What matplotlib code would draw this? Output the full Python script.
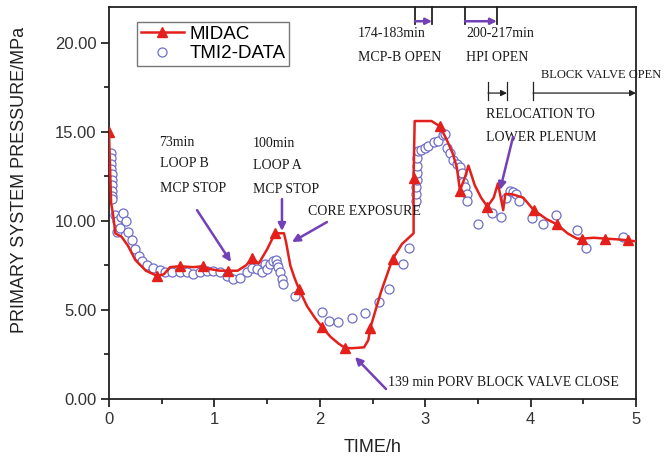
import numpy as np
import matplotlib
matplotlib.use("Agg")
import matplotlib.pyplot as plt

# MIDAC calculation (line)
midac_t = [0.00, 0.01, 0.02, 0.04, 0.06, 0.12, 0.18, 0.25, 0.35, 0.46,
           0.52, 0.58, 0.67, 0.80, 0.89, 0.95, 1.05, 1.13, 1.22, 1.30,
           1.36, 1.42, 1.50, 1.575, 1.66, 1.68, 1.72, 1.76, 1.80, 1.88,
           1.96, 2.02, 2.10, 2.18, 2.24, 2.30, 2.42, 2.46, 2.48, 2.58,
           2.69, 2.78, 2.89, 2.89, 2.90, 3.06, 3.14, 3.20, 3.26, 3.30,
           3.33, 3.38, 3.41, 3.47, 3.53, 3.59, 3.65, 3.69, 3.72, 3.74,
           3.76, 3.82, 3.93, 4.03, 4.15, 4.25, 4.35, 4.44, 4.49, 4.60,
           4.71, 4.85, 4.92, 5.00]
midac_p = [15.0, 13.0, 11.0, 10.3, 9.3, 9.1, 8.6, 7.8, 7.2, 6.9,
           7.0, 7.4, 7.45, 7.4, 7.45, 7.3, 7.2, 7.2, 7.2, 7.5,
           7.9, 7.6, 8.4, 9.3, 9.3, 8.8, 7.5, 6.8, 6.2, 5.2,
           4.5, 4.05, 3.5, 3.1, 2.87, 2.85, 2.9, 3.3, 4.0, 6.0,
           7.85, 8.7, 9.3, 12.4, 15.6, 15.6, 15.3, 14.6, 13.8, 13.0,
           11.7, 12.5, 13.1, 12.0, 11.3, 10.8, 11.3, 12.1, 11.2, 10.6,
           11.5, 11.5, 11.3, 10.6, 10.1, 9.8, 9.3, 9.0, 9.0, 9.05,
           9.0, 8.95, 8.9, 8.85]
midac_marks = [0, 9, 12, 14, 17, 20, 23, 28, 31, 34, 38, 40, 43, 46, 50,
               55, 63, 65, 68, 70, 72]

# TMI-2 plant data (open circles)
tmi_t = [0.020, 0.021, 0.022, 0.023, 0.024, 0.025, 0.026, 0.027, 0.028, 0.030,
         0.06, 0.075, 0.08, 0.10, 0.11, 0.13, 0.16, 0.18, 0.22, 0.25,
         0.28, 0.31, 0.36, 0.42, 0.48, 0.53, 0.60, 0.67, 0.74, 0.80,
         0.86, 0.93, 0.99, 1.05, 1.12, 1.18, 1.24, 1.31, 1.36, 1.40,
         1.45, 1.48, 1.50, 1.53, 1.56, 1.58, 1.59, 1.60, 1.62, 1.64,
         1.65, 1.76, 2.02, 2.09, 2.17, 2.31, 2.43, 2.56, 2.66, 2.79,
         2.85, 2.91, 2.91, 2.91, 2.92, 2.92, 2.92, 2.92, 2.93, 2.96,
         3.00, 3.03, 3.08, 3.12, 3.17, 3.19, 3.21, 3.235, 3.26, 3.30,
         3.33, 3.35, 3.36, 3.38, 3.40, 3.40, 3.50, 3.63, 3.72, 3.77,
         3.80, 3.83, 3.86, 3.89, 4.01, 4.12, 4.24, 4.44, 4.53, 4.88]
tmi_p = [13.8, 13.5, 13.2, 12.9, 12.6, 12.3, 12.0, 11.7, 11.4, 11.2,
         10.3, 9.4, 10.0, 9.6, 10.2, 10.45, 10.0, 9.4, 8.9, 8.4,
         8.0, 7.75, 7.5, 7.35, 7.25, 7.1, 7.1, 7.1, 7.1, 7.0,
         7.1, 7.2, 7.2, 7.1, 6.9, 6.75, 6.8, 7.1, 7.35, 7.3,
         7.1, 7.6, 7.3, 7.6, 7.75, 7.8, 7.6, 7.4, 7.1, 6.75,
         6.45, 5.8, 4.9, 4.4, 4.3, 4.55, 4.85, 5.45, 6.2, 7.6,
         8.5, 11.1, 11.5, 11.9, 12.3, 12.7, 13.1, 13.5, 13.9, 14.0,
         14.1, 14.2, 14.4, 14.5, 14.8, 14.9, 14.1, 13.8, 13.4, 13.2,
         13.0, 12.7, 12.2, 11.9, 11.5, 11.1, 9.8, 10.45, 10.2, 11.3,
         11.7, 11.6, 11.5, 11.1, 10.15, 9.8, 10.3, 9.5, 8.5, 9.1]

red = "#E3201B"
blue = "#6F6FC6"
purple = "#7440B8"
txt_font = "Liberation Serif"

fig = plt.figure(figsize=(6.65, 4.59), dpi=100)
ax = fig.add_axes([109 / 665, 1 - 399 / 459, 527 / 665, 392 / 459])

ax.plot(midac_t, midac_p, color=red, lw=1.8, marker="^", markersize=7.5,
        markevery=midac_marks, label="MIDAC", zorder=3)
ax.plot(tmi_t, tmi_p, ls="none", marker="o", markersize=6.5, mfc="white",
        mec=blue, mew=0.9, label="TMI2-DATA", zorder=2)

ax.set_xlim(0, 5)
ax.set_ylim(0, 22)
ax.set_xticks([0, 1, 2, 3, 4, 5])
ax.set_xticks(np.arange(0.5, 5, 1), minor=True)
ax.set_yticks([0, 5, 10, 15, 20])
ax.set_yticks([2.5, 7.5, 12.5, 17.5], minor=True)
ax.set_yticklabels(["%.2f" % v for v in [0, 5, 10, 15, 20]])
ax.tick_params(which="major", direction="out", length=6, width=1.1,
               labelsize=12, labelcolor="#333333", pad=3)
ax.tick_params(which="minor", direction="out", length=3.5, width=1.1)
for s in ax.spines.values():
    s.set_linewidth(1.3)
    s.set_color("#222222")
for lab in ax.get_xticklabels() + ax.get_yticklabels():
    lab.set_family("Liberation Sans")

ax.set_xlabel("TIME/h", fontsize=13, family="Liberation Sans", va="center",
              color="#222222")
ax.set_ylabel("PRIMARY SYSTEM PRESSURE/MPa", fontsize=13,
              family="Liberation Sans", va="center", color="#222222")
ax.xaxis.set_label_coords(0.5, -0.125)
ax.yaxis.set_label_coords(-0.169, 0.559)

leg = ax.legend(loc="upper left", bbox_to_anchor=(0.053, 0.962), frameon=True,
                fancybox=False, edgecolor="#555555", borderpad=0.2,
                labelspacing=0.12, handlelength=2.3, handletextpad=0.3,
                borderaxespad=0, prop={"family": "Liberation Sans", "size": 13.5})
leg.get_frame().set_linewidth(1.0)

# annotation text
tk = dict(family=txt_font, fontsize=10, color="#1a1a1a", va="center", ha="left")
notes = [
    (0.48, 14.42, "73min"), (0.48, 13.19, "LOOP B"), (0.48, 11.84, "MCP STOP"),
    (1.365, 14.36, "100min"), (1.365, 13.13, "LOOP A"), (1.365, 11.73, "MCP STOP"),
    (1.89, 10.50, "CORE EXPOSURE"),
    (2.362, 20.54, "174-183min"), (2.362, 19.19, "MCP-B OPEN"),
    (3.387, 20.54, "200-217min"), (3.387, 19.19, "HPI OPEN"),
    (3.577, 15.94, "RELOCATION TO"), (3.577, 14.70, "LOWER PLENUM"),
    (2.647, 0.95, "139 min PORV BLOCK VALVE CLOSE"),
]
for x, y, s in notes:
    ax.text(x, y, s, clip_on=False, **tk)
ax.text(4.097, 18.18, "BLOCK VALVE OPEN", clip_on=False,
        **dict(tk, fontsize=9))

# purple arrows
arrows = [((0.835, 10.6), (1.157, 7.69)),
          ((1.641, 11.22), (1.641, 9.43)),
          ((2.068, 9.93), (1.736, 8.81)),
          ((2.628, 0.56), (2.334, 2.36)),
          ((3.833, 14.70), (3.710, 11.73))]
for a, b in arrows:
    ax.annotate("", xy=b, xytext=a,
                arrowprops=dict(arrowstyle="-|>", color=purple, lw=1.8,
                                mutation_scale=11, shrinkA=0, shrinkB=0))

# bracket markers at top
for x0, x1 in [(2.903, 3.065), (3.378, 3.68)]:
    for xx in (x0, x1):
        ax.plot([xx, xx], [21.05, 22], color="#222222", lw=1.3, clip_on=False)
    ax.annotate("", xy=(x1, 21.2), xytext=(x0, 21.2),
                arrowprops=dict(arrowstyle="-|>", color=purple, lw=1.8,
                                mutation_scale=9, shrinkA=0, shrinkB=0))
for xx in (3.596, 3.776, 4.023):
    ax.plot([xx, xx], [16.78, 17.79], color="#222222", lw=0.9, clip_on=False)
for x0, x1 in [(3.596, 3.776), (4.023, 5.0)]:
    ax.annotate("", xy=(x1, 17.17), xytext=(x0, 17.17),
                arrowprops=dict(arrowstyle="-|>", color="#222222", lw=0.9,
                                mutation_scale=9, shrinkA=0, shrinkB=0))

fig.savefig("out.png", dpi=100)
